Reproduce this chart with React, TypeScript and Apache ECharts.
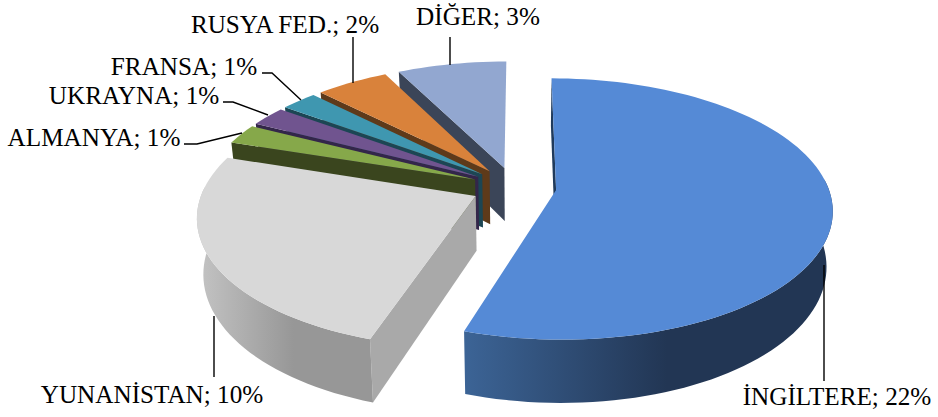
import React, { useEffect, useRef } from "react";
import * as echarts from "echarts";

const categories = ["İNGİLTERE", "YUNANİSTAN", "ALMANYA", "UKRAYNA", "FRANSA", "RUSYA FED.", "DİĞER"];
const shares = [22, 10, 1, 1, 1, 2, 3];

const topColors = ["#558ad6", "#d8d8d8", "#86a84a", "#70548f", "#3f97b0", "#d9823b", "#92a7d0"];
const cutColors = ["#1f3a5c", "#a9a9a9", "#3a451e", "#33264a", "#1c4654", "#5e3a1a", "#3b4558"];
const rimStops: [string, string][] = [
  ["#3c6496", "#223654"],
  ["#c4c4c4", "#979797"],
  ["#3a451e", "#3a451e"],
  ["#33264a", "#33264a"],
  ["#1c4654", "#1c4654"],
  ["#5e3a1a", "#5e3a1a"],
  ["#3b4558", "#3b4558"],
];

// Annotation layout: label centre and leader polyline, in page pixels.
const labelCentres = [
  [837, 396], [152, 394], [94, 137], [134, 95], [184, 66], [285, 24], [478, 16],
];
const leaders = [
  [[824, 265], [824, 381]],
  [[214, 316], [214, 377]],
  [[184, 144], [197, 144], [242, 133]],
  [[223, 102], [233, 102], [268, 115]],
  [[262, 73], [272, 73], [301, 100]],
  [[353, 37], [353, 83]],
  [[450, 37], [450, 65]],
];

// Pie geometry and projection
const G = { x0: 514, y0: 187, R: 272, Rv: 127, e: 42.5, k: 0.144, vx: 520, m: 0.02, d: 54 };
const total = shares.reduce((a, b) => a + b, 0);
const starts: number[] = [];
shares.reduce((acc, v, i) => {
  starts[i] = acc;
  return acc + (v / total) * 360;
}, 0);
const rad = (d: number) => (d * Math.PI) / 180;

function project(wx: number, v: number, bottom: boolean): number[] {
  const s = 1 / (1 - G.k * v);
  let X = G.vx + (wx - G.vx) * s;
  let Y = G.y0 + G.Rv * v * s;
  if (bottom) {
    X = G.vx + (X - G.vx) * (1 - G.m);
    Y += G.d * s;
  }
  return [X, Y];
}

function renderSlice(_: any, api: any) {
  const i = api.value(0) as number;
  const value = api.value(1) as number;
  const a0 = starts[i];
  const a1 = a0 + (value / total) * 360;
  const mid = rad((a0 + a1) / 2);
  const ax = G.x0 + G.e * Math.sin(mid);
  const av = (-Math.cos(mid) * G.e) / G.R;
  const pt = (deg: number, r: number, bottom: boolean) =>
    project(ax + G.R * r * Math.sin(rad(deg)), av - r * Math.cos(rad(deg)), bottom);
  const arcDegs: number[] = [];
  const n = Math.max(2, Math.ceil((a1 - a0) / 2));
  for (let j = 0; j <= n; j++) arcDegs.push(a0 + ((a1 - a0) * j) / n);
  const topArc = arcDegs.map((d) => pt(d, 1, false));
  const frontDegs = arcDegs.filter((d) => Math.cos(rad(d)) < 0.1);
  const frontTop = frontDegs.map((d) => pt(d, 1, false));
  const frontBot = frontDegs.map((d) => pt(d, 1, true));
  const apexTop = pt(0, 0, false);
  const apexBot = pt(0, 0, true);
  const children: any[] = [
    {
      type: "polygon",
      shape: { points: [apexTop, apexBot, pt(a0, 1, true), pt(a0, 1, false)] },
      style: { fill: cutColors[i] },
    },
  ];
  if (frontDegs.length > 1) {
    children.push({
      type: "polygon",
      shape: { points: [...frontTop, ...frontBot.slice().reverse()] },
      style: {
        fill: new echarts.graphic.LinearGradient(0, 0, 1, 0, [
          { offset: 0, color: rimStops[i][0] },
          { offset: 0.55, color: rimStops[i][1] },
          { offset: 1, color: rimStops[i][1] },
        ]),
      },
    });
  }
  children.push({
    type: "polygon",
    shape: { points: [apexTop, ...topArc] },
    style: { fill: topColors[i] },
  });
  return { type: "group", children };
}

function renderLabel(_: any, api: any) {
  const i = api.value(0) as number;
  const value = api.value(1) as number;
  return {
    type: "group",
    children: [
      {
        type: "polyline",
        shape: { points: leaders[i] },
        style: { stroke: "#000", lineWidth: 1.4, fill: "none" },
      },
      {
        type: "text",
        style: {
          x: labelCentres[i][0],
          y: labelCentres[i][1],
          text: `${categories[i]}; ${value}%`,
          align: "center",
          verticalAlign: "middle",
          fill: "#000",
          fontFamily: "'Liberation Serif'",
          fontSize: 25.2,
        },
      },
    ],
  };
}

export default function App() {
  const ref = useRef<HTMLDivElement>(null);
  useEffect(() => {
    document.body.style.margin = "0";
    const chart = echarts.init(ref.current!, undefined, { renderer: "svg" });
    const rows = categories.map((_, i) => [i, shares[i]]);
    chart.setOption({
      animation: false,
      backgroundColor: "#fff",
      series: [
        {
          type: "custom",
          coordinateSystem: "none",
          renderItem: renderSlice,
          data: rows.slice().reverse(),
          silent: true,
          z: 2,
        },
        {
          type: "custom",
          coordinateSystem: "none",
          renderItem: renderLabel,
          data: rows,
          silent: true,
          z: 3,
        },
      ],
    });
    return () => chart.dispose();
  }, []);
  return <div ref={ref} style={{ width: 938, height: 417 }} />;
}
